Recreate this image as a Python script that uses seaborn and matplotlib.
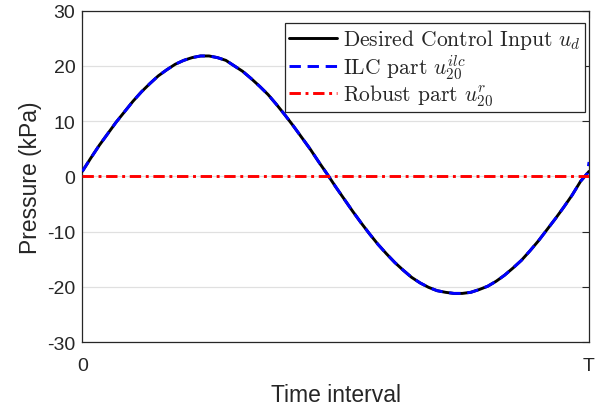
import numpy as np
import pandas as pd
import matplotlib
matplotlib.use("Agg")
import matplotlib.pyplot as plt
import seaborn as sns

# time samples (fraction of the interval T), 61 samples
time = list(np.linspace(0.0, 1.0, 61))

desired = [0.9, 3.3, 5.6, 7.7, 9.8, 11.7, 13.6, 15.3, 16.8, 18.2,
           19.3, 20.3, 21.0, 21.5, 21.8, 21.8, 21.5, 21.0, 20.0, 19.0,
           17.7, 16.3, 14.8, 13.0, 11.1, 9.1, 7.0, 4.9, 2.6, 0.4,
           -1.9, -4.1, -6.3, -8.4, -10.4, -12.3, -14.0, -15.6, -17.0, -18.3,
           -19.3, -20.1, -20.7, -21.0, -21.2, -21.2, -21.0, -20.5, -19.9, -19.0,
           -17.9, -16.6, -15.2, -13.5, -11.7, -9.7, -7.7, -5.6, -3.4, -0.9,
           0.9]

# ILC part follows the desired input, with a short jump at the very end
ilc_time = time[:-1] + [0.997, 1.0]
ilc = [0.9, 3.3, 5.6, 7.7, 9.8, 11.7, 13.6, 15.3, 16.8, 18.2,
       19.3, 20.3, 21.0, 21.5, 21.8, 21.8, 21.5, 21.0, 20.0, 19.0,
       17.7, 16.3, 14.8, 13.0, 11.1, 9.1, 7.0, 4.9, 2.6, 0.4,
       -1.9, -4.1, -6.3, -8.4, -10.4, -12.3, -14.0, -15.6, -17.0, -18.3,
       -19.3, -20.1, -20.7, -21.0, -21.2, -21.2, -21.0, -20.5, -19.9, -19.0,
       -17.9, -16.6, -15.2, -13.5, -11.7, -9.7, -7.7, -5.6, -3.4, -0.9,
       0.6, 2.6]
robust = [0.0] * 61

labels = [r"Desired Control Input $u_d$",
          r"ILC part $u_{20}^{ilc}$",
          r"Robust part $u_{20}^{r}$"]
xtick_vals = [0, 1]
xtick_labels = ["0", "T"]
ytick_vals = [-30, -20, -10, 0, 10, 20, 30]

sns.set_style("white")
plt.rcParams["font.family"] = ["Liberation Sans", "DejaVu Sans"]
plt.rcParams["mathtext.fontset"] = "cm"

fig = plt.figure(figsize=(6.0, 4.1), dpi=100)
ax = fig.add_axes([0.1372, 0.1634, 0.8445, 0.8081])

sns.lineplot(x=time, y=desired, ax=ax, color="black", lw=2.1, label=labels[0],
             zorder=3)
sns.lineplot(x=ilc_time, y=ilc, ax=ax, color=(0, 0, 1), lw=2.1,
             label=labels[1], zorder=4)
ax.lines[-1].set_dashes([3.9, 2.3])
sns.lineplot(x=time, y=robust, ax=ax, color=(1, 0, 0), lw=2.1, label=labels[2],
             zorder=5)
ax.lines[-1].set_dashes([3.9, 1.6, 1.0, 1.6])

ax.set_xlim(0, 1)
ax.set_ylim(-30, 30)
ax.set_xticks(xtick_vals)
ax.set_xticklabels(xtick_labels)
ax.set_yticks(ytick_vals)
ax.set_yticklabels([str(v) for v in ytick_vals])
ax.yaxis.grid(True, color="#e0e0e0", lw=0.9)
ax.xaxis.grid(False)
ax.set_axisbelow(True)

tc = "#262626"
for s in ax.spines.values():
    s.set_visible(True)
    s.set_color(tc)
    s.set_linewidth(0.9)
ax.tick_params(axis="both", direction="in", length=5, width=0.8, color=tc,
               labelcolor=tc, labelsize=14, top=True, right=True)
ax.tick_params(axis="y", pad=5)
ax.tick_params(axis="x", pad=11)
ax.set_xlabel("Time interval", fontsize=16.5, color=tc, labelpad=6)
ax.set_ylabel("Pressure (kPa)", fontsize=16.5, color=tc, labelpad=4)

leg = ax.legend(loc="upper right", bbox_to_anchor=(0.992, 0.963),
                prop={"family": "cmr10", "size": 15.5},
                frameon=True, fancybox=False, framealpha=1, edgecolor=tc,
                handlelength=2.2, handletextpad=0.28, labelspacing=0.05,
                borderpad=0.2, borderaxespad=0.0)
leg.get_frame().set_linewidth(0.9)

fig.savefig("out.png", dpi=100)
